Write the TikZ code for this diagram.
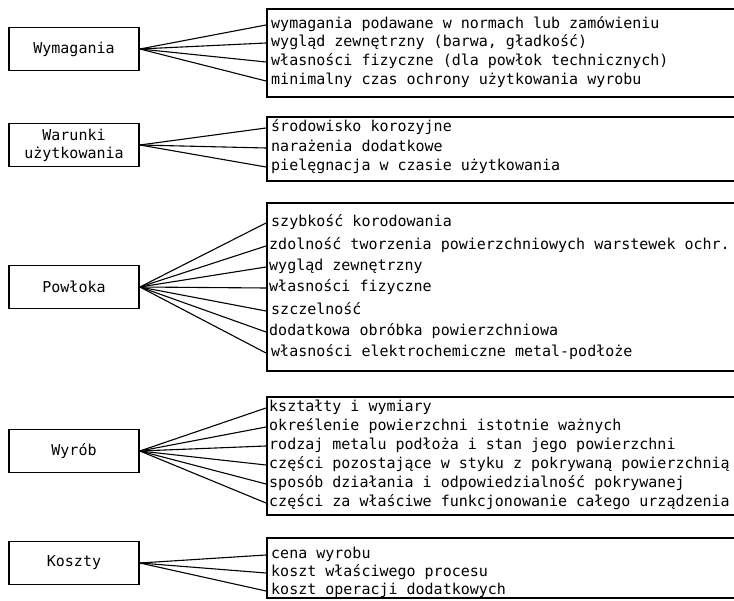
\documentclass[tikz,border=0pt]{standalone}
\usepackage{fontspec}
\newfontfamily\typewriter{DejaVu Sans Mono}
\begin{document}
\begin{tikzpicture}[x=1pt, y=-1pt,
  txt/.style={font=\typewriter\fontsize{15pt}{18pt}\selectfont},
  lbox/.style={txt, draw, line width=1.7pt, minimum width=130pt, minimum height=43pt,
               inner sep=0pt, align=center},
  rbox/.style={draw, line width=1.7pt, anchor=north west, minimum width=474pt, inner sep=0pt},
  item/.style={txt, anchor=west, inner sep=0pt, text height=10pt, text depth=3pt},
  link/.style={line width=1.1pt}]
\useasboundingbox[fill=white] (0,0) rectangle (734,601);

% ---- left column: the five factors ----
\node[lbox] (wym) at (74,49)  {Wymagania};
\node[lbox] (war) at (74,145) {Warunki\\użytkowania};
\node[lbox] (pow) at (74,287) {Powłoka};
\node[lbox] (wyr) at (74,451) {Wyrób};
\node[lbox] (kos) at (74,563) {Koszty};

% ---- right column: open-ended boxes with the details ----
\node[rbox, minimum height=88pt]  (r1) at (266,8)   {};
\node[rbox, minimum height=64pt]  (r2) at (266,116) {};
\node[rbox, minimum height=168pt] (r3) at (266,202) {};
\node[rbox, minimum height=118pt] (r4) at (266,396) {};
\node[rbox, minimum height=60pt]  (r5) at (266,537) {};

% Wymagania
\node[item] (r1a) at (271,25) {wymagania podawane w normach lub zamówieniu};
\node[item] (r1b) at (271,43) {wygląd zewnętrzny (barwa, gładkość)};
\node[item] (r1c) at (271,62) {własności fizyczne (dla powłok technicznych)};
\node[item] (r1d) at (271,81) {minimalny czas ochrony użytkowania wyrobu};

% Warunki użytkowania
\node[item] (r2a) at (271,128) {środowisko korozyjne};
\node[item] (r2b) at (271,148) {narażenia dodatkowe};
\node[item] (r2c) at (271,167) {pielęgnacja w czasie użytkowania};

% Powłoka
\node[item] (r3a) at (271,223) {szybkość korodowania};
\node[item] (r3b) at (269,246) {zdolność tworzenia powierzchniowych warstewek ochr.};
\node[item] (r3c) at (269,267) {wygląd zewnętrzny};
\node[item] (r3d) at (269,288) {własności fizyczne};
\node[item] (r3e) at (271,311) {szczelność};
\node[item] (r3f) at (269,332) {dodatkowa obróbka powierzchniowa};
\node[item] (r3g) at (271,353) {własności elektrochemiczne metal-podłoże};

% Wyrób
\node[item] (r4a) at (269,408) {kształty i wymiary};
\node[item] (r4b) at (269,427) {określenie powierzchni istotnie ważnych};
\node[item] (r4c) at (269,446) {rodzaj metalu podłoża i stan jego powierzchni};
\node[item] (r4d) at (269,465) {części pozostające w styku z pokrywaną powierzchnią};
\node[item] (r4e) at (269,484) {sposób działania i odpowiedzialność pokrywanej};
\node[item] (r4f) at (269,503) {części za właściwe funkcjonowanie całego urządzenia};

% Koszty
\node[item] (r5a) at (271,555) {cena wyrobu};
\node[item] (r5b) at (271,573) {koszt właściwego procesu};
\node[item] (r5c) at (271,591) {koszt operacji dodatkowych};

% ---- fan-out connectors ----
\foreach \s in {a,b,c,d}
  \draw[link] (wym.east) -- (r1.west |- r1\s.west);
\foreach \s in {a,b,c}
  \draw[link] (war.east) -- (r2.west |- r2\s.west);
\foreach \s in {a,b,c,d,e,f,g}
  \draw[link] (pow.east) -- (r3.west |- r3\s.west);
\foreach \s in {a,b,c,d,e,f}
  \draw[link] (wyr.east) -- (r4.west |- r4\s.west);
\foreach \s in {a,b,c}
  \draw[link] (kos.east) -- (r5.west |- r5\s.west);
\end{tikzpicture}
\end{document}
